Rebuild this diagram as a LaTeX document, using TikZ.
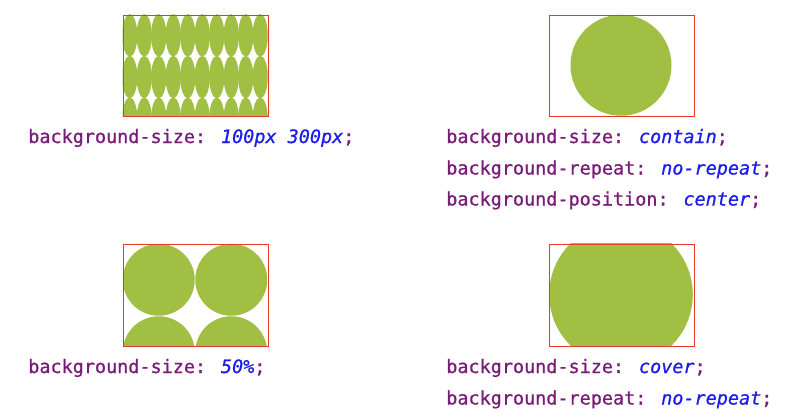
\documentclass[tikz,border=0pt]{standalone}
\usepackage{fontspec}
\newfontfamily\codefont[FakeBold=0.8]{DejaVu Sans Mono}
\definecolor{propc}{RGB}{120,28,120}
\definecolor{valc}{RGB}{28,28,235}
\definecolor{leaf}{RGB}{161,191,66}
\definecolor{frame}{RGB}{232,56,40}
\newcommand{\pp}[1]{\textcolor{propc}{#1}}
\newcommand{\vv}[1]{\textcolor{valc}{\itshape #1}}
\begin{document}
\begin{tikzpicture}[x=0.75pt,y=-0.75pt,
  code/.style={anchor=base west,inner sep=0pt,font=\codefont\fontsize{13.85pt}{16pt}\selectfont,text=propc},
  boxframe/.style={draw=frame,line width=1.05pt},
  blob/.style={fill=leaf}]
\useasboundingbox (0,0) rectangle (806,414);
% box 1: 100px 300px tiles
\begin{scope}
  \clip (122.5,14.5) rectangle (267.5,116);
  \foreach \i in {0,...,9}{
    \foreach \j in {0,1,2}{
      \fill[leaf] ({122.5+14.5*(\i+0.5)},{14.5+41.7*(\j+0.5)}) ellipse[x radius=7.6,y radius=21.3];
    }
  }
\end{scope}
\node[boxframe,minimum width=108.75pt,minimum height=76.1pt,inner sep=0pt,anchor=north west] (b1) at (122.5,14.5) {};
% box 2: contain
\fill[leaf] (621,65.25) circle[radius=50.5];
\node[boxframe,minimum width=108.75pt,minimum height=76.1pt,inner sep=0pt,anchor=north west] (b2) at (548.5,14.5) {};
% box 3: 50%
\begin{scope}
  \clip (122.5,243.5) rectangle (267.5,345.5);
  \foreach \i in {0,1}{
    \foreach \j in {0,1}{
      \fill[leaf] ({122.5+36.25+72.5*\i},{243.5+36.25+72.5*\j}) circle[radius=36];
    }
  }
\end{scope}
\node[boxframe,minimum width=108.75pt,minimum height=76.5pt,inner sep=0pt,anchor=north west] (b3) at (122.5,243.5) {};
% box 4: cover
\begin{scope}
  \clip (548.5,243.5) rectangle (693.5,345.5);
  \fill[leaf] (621,294.5) circle[radius=71.8];
\end{scope}
\node[boxframe,minimum width=108.75pt,minimum height=76.5pt,inner sep=0pt,anchor=north west] (b4) at (548.5,243.5) {};
% texts
\node[code] (t1) at (28,143) {\pp{background-size:} \vv{100px 300px};};
\node[code] (t2) at (446,143) {\pp{background-size:} \vv{contain};};
\node[code] (t3) at (446,174.5) {\pp{background-repeat:} \vv{no-repeat};};
\node[code] (t4) at (446,205.5) {\pp{background-position:} \vv{center};};
\node[code] (t5) at (28,373) {\pp{background-size:} \vv{50\%};};
\node[code] (t6) at (446,373) {\pp{background-size:} \vv{cover};};
\node[code] (t7) at (446,404.5) {\pp{background-repeat:} \vv{no-repeat};};
\end{tikzpicture}
\end{document}
